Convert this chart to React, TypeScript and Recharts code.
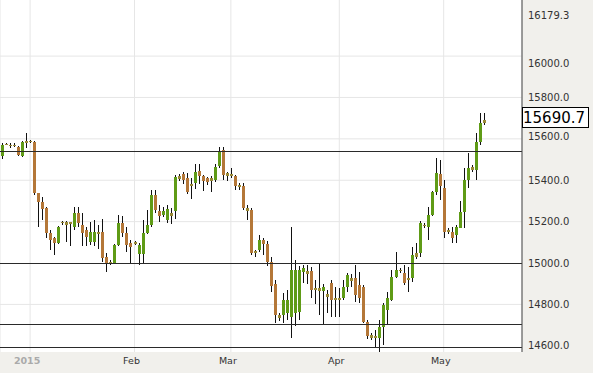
import { Bar, CartesianGrid, ComposedChart, ReferenceLine, XAxis, YAxis } from 'recharts';

// daily candles, late Dec 2014 .. mid May 2015
const opens = [
    15517, 15573, 15572, 15568, 15560, 15515, 15580, 15585, 15587, 15337, 15296, 15265, 15144, 15120, 15096, 15192,
    15200, 15190, 15176, 15240, 15185, 15160, 15100, 15100, 15150, 15150, 15030, 15000, 15000, 15087, 15192, 15144,
    15096, 15096, 15045, 15045, 15144, 15185, 15329, 15250, 15230, 15210, 15240, 15250, 15405, 15430, 15410, 15370,
    15385, 15445, 15420, 15410, 15395, 15400, 15467, 15546, 15435, 15420, 15420, 15375, 15370, 15265, 15256, 15050,
    15063, 15110, 15093, 15005, 14900, 14750, 14750, 14760, 14740, 14760, 14765, 14955, 14960, 14960, 14880, 14865,
    14865, 14835, 14904, 14822, 14830, 14830, 14885, 14930, 14928, 14894, 14885, 14717, 14653, 14645, 14640, 14690,
    14775, 14820, 14933, 14962, 14952, 14918, 14928, 15030, 15049, 15180, 15174, 15232, 15344, 15430, 15363, 15150,
    15150, 15136, 15170, 15247, 15401, 15450, 15450, 15585, 15677
];
const highs = [
    15580, 15582, 15580, 15578, 15565, 15592, 15628, 15595, 15590, 15340, 15320, 15270, 15160, 15125, 15180, 15205,
    15205, 15200, 15270, 15270, 15240, 15176, 15200, 15208, 15185, 15215, 15047, 15015, 15090, 15230, 15225, 15176,
    15110, 15108, 15095, 15208, 15256, 15353, 15353, 15280, 15270, 15280, 15265, 15425, 15430, 15440, 15435, 15410,
    15480, 15480, 15425, 15415, 15420, 15480, 15562, 15562, 15440, 15460, 15425, 15385, 15385, 15280, 15265, 15063,
    15136, 15121, 15105, 15030, 14920, 14760, 14855, 14870, 15175, 15015, 14985, 14990, 14990, 14980, 14920, 14998,
    14900, 14870, 14918, 14885, 14880, 14918, 14952, 14945, 14991, 14955, 14895, 14725, 14660, 14677, 14725, 14805,
    14860, 14967, 15055, 14975, 14991, 14981, 15078, 15097, 15204, 15194, 15271, 15350, 15508, 15498, 15401, 15170,
    15174, 15184, 15300, 15459, 15532, 15475, 15629, 15725, 15725
];
const lows = [
    15505, 15568, 15556, 15562, 15515, 15510, 15555, 15580, 15330, 15176, 15208, 15120, 15063, 15039, 15090, 15185,
    15103, 15080, 15160, 15176, 15080, 15080, 15085, 15080, 15070, 15005, 14958, 14990, 14995, 15080, 15128, 15055,
    15000, 15085, 14990, 15000, 15140, 15176, 15240, 15200, 15220, 15195, 15190, 15215, 15395, 15380, 15335, 15310,
    15360, 15380, 15350, 15375, 15345, 15390, 15460, 15401, 15395, 15410, 15352, 15355, 15256, 15208, 15040, 15030,
    15055, 15040, 14985, 14860, 14710, 14720, 14710, 14725, 14636, 14695, 14725, 14905, 14900, 14830, 14800, 14750,
    14700, 14760, 14740, 14740, 14740, 14822, 14860, 14885, 14812, 14805, 14710, 14635, 14630, 14590, 14572, 14604,
    14700, 14815, 14928, 14950, 14894, 14860, 14910, 15020, 15029, 15170, 15112, 15225, 15329, 15305, 15121, 15140,
    15097, 15097, 15170, 15170, 15363, 15440, 15401, 15571, 15667
];
const closes = [
    15570, 15576, 15568, 15572, 15522, 15587, 15588, 15590, 15337, 15296, 15263, 15144, 15112, 15096, 15176, 15200,
    15185, 15196, 15240, 15192, 15144, 15128, 15150, 15150, 15140, 15022, 15000, 15005, 15087, 15192, 15144, 15087,
    15075, 15100, 15087, 15144, 15185, 15329, 15256, 15225, 15250, 15260, 15225, 15417, 15420, 15400, 15345, 15380,
    15440, 15420, 15395, 15390, 15410, 15465, 15540, 15425, 15420, 15432, 15372, 15365, 15265, 15250, 15047, 15060,
    15112, 15090, 15005, 14888, 14750, 14735, 14822, 14820, 14967, 14967, 14967, 14975, 14945, 14870, 14870, 14878,
    14885, 14850, 14822, 14830, 14822, 14885, 14940, 14915, 14845, 14831, 14717, 14645, 14640, 14638, 14690, 14798,
    14830, 14933, 14967, 14967, 14904, 14928, 15039, 15049, 15194, 15184, 15232, 15344, 15435, 15370, 15150, 15160,
    15121, 15174, 15247, 15401, 15459, 15464, 15585, 15677, 15690.7
];

// empty slots after the last candle (right-hand gap)
const totalSlots = 130;

const monthTicks = [7, 33, 57, 84, 110];
const monthLabels = ['2015', 'Feb', 'Mar', 'Apr', 'May'];

const priceTicks = [14600, 14800, 15000, 15200, 15400, 15600, 15690.7, 15800, 16000, 16179.3];
const gridValues = [14800, 15200, 15400, 15600, 15800, 16000];
const levelLines = [15540, 15000, 14705, 14590];
const lastPrice = 15690.7;
const topPrice = 16179.3;

const rows = Array.from({ length: totalSlots }, (_, i) =>
    i < opens.length
        ? { i, o: opens[i], h: highs[i], l: lows[i], c: closes[i], range: [lows[i], highs[i]] }
        : { i }
);

const UP = '#5f9b16';
const DOWN = '#b47738';
const FLAT = '#9a8a36';
const font = '"DejaVu Sans", Verdana, sans-serif';

const Candle = (props: any) => {
    const { x, y, width, height, payload } = props;
    if (!payload || payload.o == null || !height) return null;
    const { o, h, l, c } = payload;
    const top = Math.min(y, y + height);
    const span = Math.abs(height);
    const ppu = span / (h - l);
    const yo = top + (h - o) * ppu;
    const yc = top + (h - c) * ppu;
    const diff = c - o;
    const color = Math.abs(diff) < 20 ? FLAT : diff > 0 ? UP : DOWN;
    const bx = Math.round(x);
    const bodyTop = Math.min(yo, yc);
    const bodyH = Math.max(1.5, Math.abs(yc - yo));
    return (
        <g shapeRendering='crispEdges'>
            <rect x={bx + 1} y={top} width={1} height={span} fill='#111' />
            <rect x={bx} y={bodyTop} width={3} height={bodyH} fill={color} />
        </g>
    );
};

const XTick = (props: any) => {
    const { x, y, payload } = props;
    const k = monthTicks.indexOf(payload.value);
    const first = k === 0;
    return (
        <text
            x={x - 3}
            y={y + 1}
            dy='0.35em'
            textAnchor='middle'
            fontSize={9.5}
            fontFamily={font}
            fontWeight={first ? 'bold' : 'normal'}
            fill={first ? '#aaa' : '#333'}
        >
            {monthLabels[k]}
        </text>
    );
};

const YTick = (props: any) => {
    const { x, y, payload } = props;
    const v = payload.value;
    if (v === lastPrice) {
        return (
            <g>
                <rect x={x - 6} y={y - 13} width={66} height={20} fill='#fff' stroke='#000' shapeRendering='crispEdges' />
                <text x={x - 5} y={y + 2.5} fontSize={15} fontFamily={font} fill='#000'>
                    {v.toFixed(1)}
                </text>
            </g>
        );
    }
    const shift = v === 16000 ? 7 : v === topPrice ? -3 : v === 15600 ? -2 : 0;
    return (
        <text x={x} y={y + shift} dy='0.35em' fontSize={10} fontFamily={font} fill='#333'>
            {v.toFixed(1)}
        </text>
    );
};

export default function App() {
    return (
        <div style={{ position: 'absolute', left: 0, top: 0, width: 593, height: 373, background: '#f1f0ec' }}>
            <ComposedChart
                width={593}
                height={373}
                data={rows}
                margin={{ top: 0, right: 0, bottom: 0, left: 0 }}
                barCategoryGap={0}
            >
                <CartesianGrid
                    fill='#fff'
                    fillOpacity={1}
                    stroke='#e6e6e6'
                    horizontalValues={gridValues}
                />
                <XAxis
                    dataKey='i'
                    type='category'
                    ticks={monthTicks}
                    interval={0}
                    height={21}
                    axisLine={false}
                    tickLine={false}
                    tick={<XTick />}
                />
                <YAxis
                    orientation='right'
                    width={71}
                    domain={[14570, 16271]}
                    allowDataOverflow
                    ticks={priceTicks}
                    interval={0}
                    tickLine={false}
                    tickSize={4}
                    tickMargin={2}
                    axisLine={{ stroke: '#444' }}
                    tick={<YTick />}
                />
                {levelLines.map((v) => (
                    <ReferenceLine key={v} y={v} stroke='#2a2a2a' strokeWidth={1} shapeRendering='crispEdges' />
                ))}
                <Bar dataKey='range' barSize={3} shape={<Candle />} isAnimationActive={false} />
            </ComposedChart>
        </div>
    );
}
